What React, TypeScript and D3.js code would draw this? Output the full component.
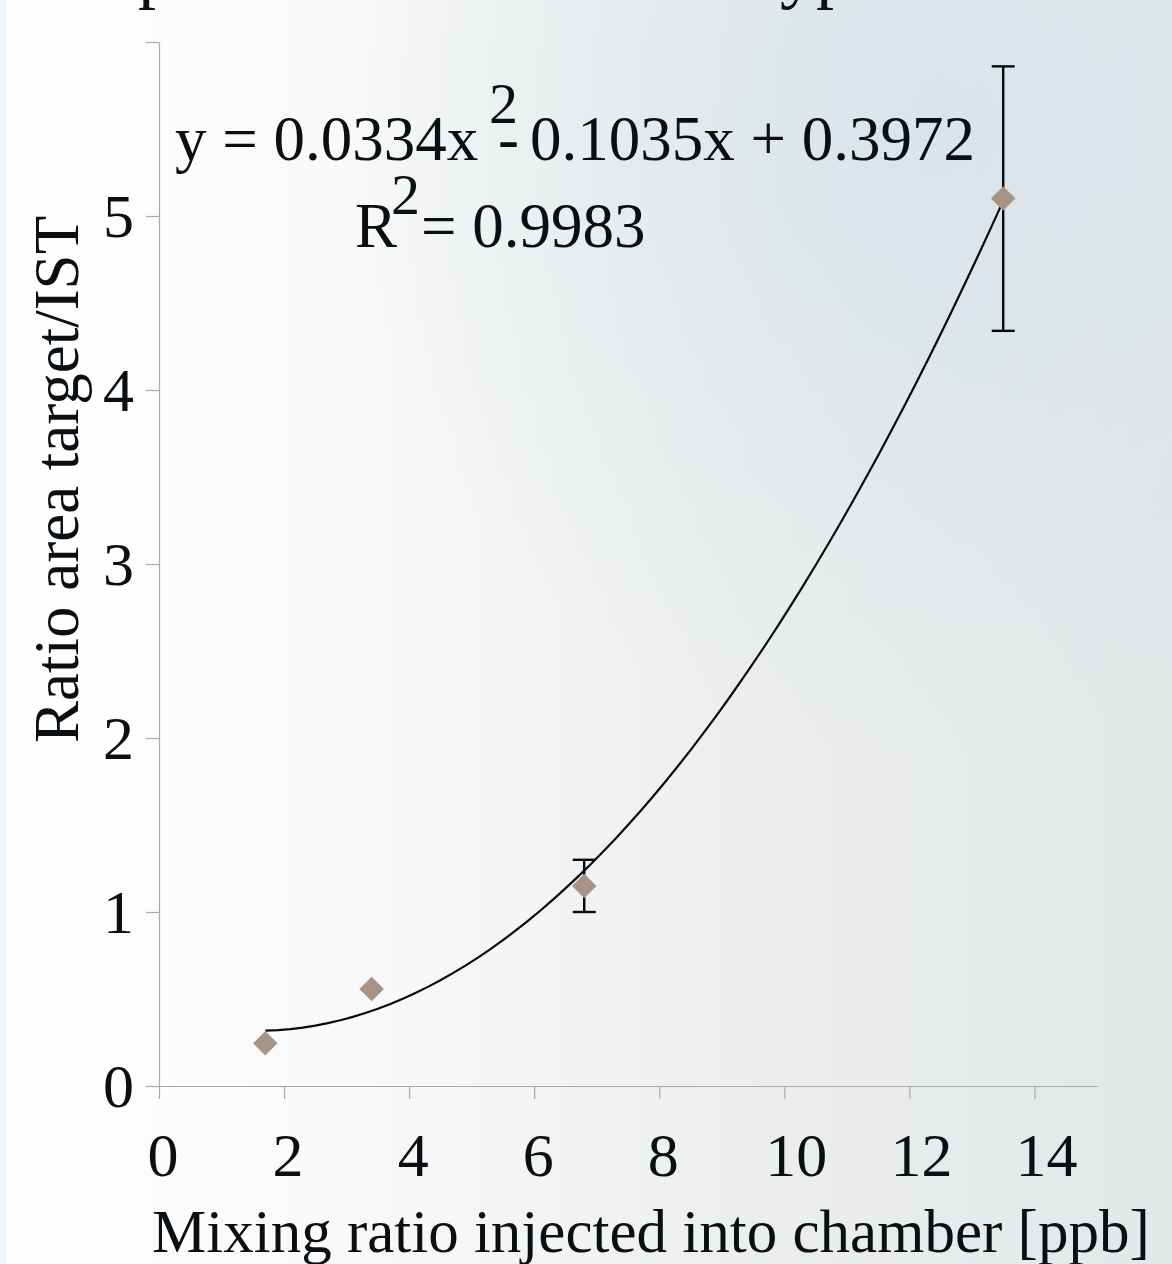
import React, { useEffect, useRef } from 'react';
import * as d3 from 'd3';

// injected mixing ratio [ppb] and measured area ratio target/IST
const mixingRatio = [1.7, 3.4, 6.8, 13.5];
const areaRatio = [0.245, 0.557, 1.15, 5.1];
const errorSize = [0, 0, 0.15, 0.76];
// polynomial trendline y = a x^2 + b x + c, as printed on the chart
const trendCoef = [0.0334, -0.1035, 0.3972];
const xTicks = [0, 2, 4, 6, 8, 10, 12, 14];
const yTicks = [0, 1, 2, 3, 4, 5, 6];
const yTickLabels = ['0', '1', '2', '3', '4', '5', ''];

const W = 1172;
const H = 1264;
const serif = '"Liberation Serif", "Times New Roman", serif';

const App = () => {
  const ref = useRef<SVGSVGElement>(null);

  useEffect(() => {
    const svg = d3.select(ref.current);
    svg.selectAll('*').remove();

    const defs = svg.append('defs');
    const lg = defs.append('linearGradient').attr('id', 'bg').attr('x1', '0').attr('x2', '1').attr('y1', '0').attr('y2', '0');
    lg.append('stop').attr('offset', '0%').attr('stop-color', '#ffffff');
    lg.append('stop').attr('offset', '30%').attr('stop-color', '#f8f9f8');
    lg.append('stop').attr('offset', '65%').attr('stop-color', '#eceeed');
    lg.append('stop').attr('offset', '100%').attr('stop-color', '#e3e7e8');
    const rg = defs.append('radialGradient').attr('id', 'sky').attr('cx', '0.8').attr('cy', '0.1').attr('r', '0.5');
    rg.append('stop').attr('offset', '0%').attr('stop-color', '#d9e3ea').attr('stop-opacity', 0.9);
    rg.append('stop').attr('offset', '100%').attr('stop-color', '#d9e3ea').attr('stop-opacity', 0);

    svg.append('rect').attr('width', W).attr('height', H).attr('fill', 'url(#bg)');
    svg.append('rect').attr('width', W).attr('height', H).attr('fill', 'url(#sky)');
    svg.append('rect').attr('width', 6).attr('height', H).attr('fill', '#edf4fb');

    // cropped title fragments at the very top
    svg.append('text').attr('x', 138).attr('y', -5).attr('font-family', serif).attr('font-size', 72).attr('fill', '#111').text('p');
    svg.append('text').attr('x', 780).attr('y', -5).attr('font-family', serif).attr('font-size', 72).attr('fill', '#111').text('yp');

    const x = d3.scaleLinear().domain([0, 15]).range([159, 1097]);
    const y = d3.scaleLinear().domain([0, 6]).range([1086, 42]);

    // axes
    const gx = svg.append('g').attr('transform', `translate(0,${y(0)})`)
      .call(d3.axisBottom(x).tickValues(xTicks).tickSize(13).tickSizeOuter(0).tickFormat(() => ''));
    const gy = svg.append('g').attr('transform', `translate(${x(0)},0)`)
      .call(d3.axisLeft(y).tickValues(yTicks).tickSize(13).tickSizeOuter(0).tickFormat(() => ''));
    [gx, gy].forEach(g => {
      g.select('.domain').attr('stroke', '#a9a9a9').attr('stroke-width', 1.2);
      g.selectAll('.tick line').attr('stroke', '#a9a9a9').attr('stroke-width', 1.2);
    });

    svg.append('g').selectAll('text').data(xTicks).enter().append('text')
      .attr('x', d => x(d) + (String(d).length > 1 ? 12 : 4))
      .attr('y', 1176)
      .attr('text-anchor', 'middle')
      .attr('font-family', serif).attr('font-size', 62).attr('fill', '#0a0f14')
      .text(d => String(d));

    svg.append('g').selectAll('text').data(yTicks).enter().append('text')
      .attr('x', 134)
      .attr('y', d => y(d) + 21)
      .attr('text-anchor', 'end')
      .attr('font-family', serif).attr('font-size', 62).attr('fill', '#0a0f14')
      .text((d, i) => yTickLabels[i]);

    // axis titles
    svg.append('text').attr('x', 152).attr('y', 1252)
      .attr('font-family', serif).attr('font-size', 61).attr('fill', '#0a0f14')
      .text('Mixing ratio injected into chamber [ppb]');
    svg.append('text').attr('transform', 'translate(78,743) rotate(-90)')
      .attr('font-family', serif).attr('font-size', 63).attr('fill', '#0a0f14')
      .text('Ratio area target/IST');

    // trendline
    const trendX = d3.range(mixingRatio[0], mixingRatio[mixingRatio.length - 1] + 0.001, 0.2);
    const poly = (v: number) => trendCoef[0] * v * v + trendCoef[1] * v + trendCoef[2];
    svg.append('path')
      .datum(trendX)
      .attr('d', d3.line<number>().x(d => x(d)).y(d => y(poly(d))))
      .attr('fill', 'none').attr('stroke', '#0a0a0a').attr('stroke-width', 2.2);

    // error bars
    const err = svg.append('g').attr('stroke', '#050a0f').attr('stroke-width', 2.4);
    mixingRatio.forEach((mx, i) => {
      if (!errorSize[i]) return;
      const cx = x(mx);
      const top = y(areaRatio[i] + errorSize[i]);
      const bot = y(areaRatio[i] - errorSize[i]);
      err.append('line').attr('x1', cx).attr('x2', cx).attr('y1', top).attr('y2', bot);
      err.append('line').attr('x1', cx - 11.5).attr('x2', cx + 11.5).attr('y1', top).attr('y2', top);
      err.append('line').attr('x1', cx - 11.5).attr('x2', cx + 11.5).attr('y1', bot).attr('y2', bot);
    });

    // markers
    const sym = d3.symbol().type(d3.symbolSquare).size(300);
    svg.append('g').selectAll('path').data(mixingRatio).enter().append('path')
      .attr('d', sym as any)
      .attr('transform', (d, i) => `translate(${x(d)},${y(areaRatio[i])}) rotate(45)`)
      .attr('fill', '#a89486');

    // trendline equation
    const eq = svg.append('g').attr('font-family', serif).attr('fill', '#0a0f14');
    eq.append('text').attr('x', 175).attr('y', 160).attr('font-size', 63).text('y = 0.0334x');
    eq.append('text').attr('x', 489).attr('y', 123).attr('font-size', 58).text('2');
    eq.append('text').attr('x', 498).attr('y', 160).attr('font-size', 63).text('-');
    eq.append('text').attr('x', 530).attr('y', 160).attr('font-size', 63).text('0.1035x + 0.3972');
    eq.append('text').attr('x', 355).attr('y', 247).attr('font-size', 63).text('R');
    eq.append('text').attr('x', 391).attr('y', 214).attr('font-size', 58).text('2');
    eq.append('text').attr('x', 421).attr('y', 247).attr('font-size', 63).text('= 0.9983');
  }, []);

  return (
    <svg ref={ref} width={W} height={H} style={{ position: 'absolute', left: 0, top: 0, display: 'block' }} />
  );
};

export default App;
